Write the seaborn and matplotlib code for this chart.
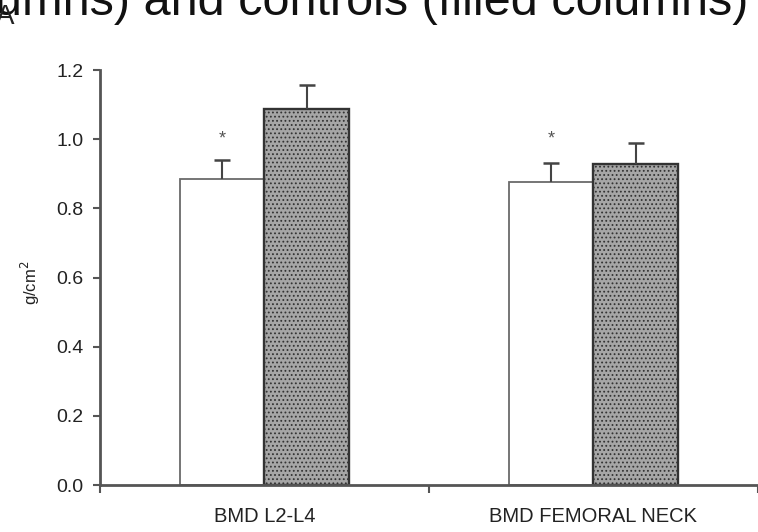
import matplotlib
import numpy as np
import pandas as pd
import seaborn as sns

matplotlib.use("Agg")
import matplotlib.pyplot as plt


sites = ["BMD L2-L4", "BMD FEMORAL NECK"]
groups = ["Patients", "Controls"]
patients_bmd = [0.885, 0.876]
controls_bmd = [1.087, 0.928]
patients_sd = [0.055, 0.055]
controls_sd = [0.070, 0.061]
y_ticks = [0.0, 0.2, 0.4, 0.6, 0.8, 1.0, 1.2]
star_level = 1.0


def setup_style() -> None:
    sns.set_theme(style="white")
    plt.rcParams["font.family"] = ["Liberation Sans", "DejaVu Sans"]
    plt.rcParams["hatch.color"] = "#7a7a7a"
    plt.rcParams["hatch.linewidth"] = 0.8
    plt.rcParams["figure.facecolor"] = "white"
    plt.rcParams["axes.facecolor"] = "white"


def build_frame() -> pd.DataFrame:
    rows = []
    for i, site in enumerate(sites):
        rows.append({"site": site, "group": groups[0], "bmd": patients_bmd[i], "sd": patients_sd[i]})
        rows.append({"site": site, "group": groups[1], "bmd": controls_bmd[i], "sd": controls_sd[i]})
    return pd.DataFrame(rows)


def main() -> None:
    setup_style()
    df = build_frame()

    fig = plt.figure(figsize=(7.58, 5.32), dpi=100)
    ax = fig.add_axes([0.1319, 0.0883, 0.8681, 0.7801])

    sns.barplot(
        data=df,
        x="site",
        y="bmd",
        hue="group",
        order=sites,
        hue_order=groups,
        palette=["white", "#a6a6a6"],
        width=0.516,
        gap=0,
        errorbar=None,
        legend=False,
        ax=ax,
    )

    sd_by_group = [patients_sd, controls_sd]
    bar_containers = list(ax.containers)
    for level, container in enumerate(bar_containers):
        for j, bar in enumerate(container.patches):
            if level == 0:
                bar.set_edgecolor("#6a6a6a")
                bar.set_linewidth(1.3)
            else:
                bar.set_edgecolor("#333333")
                bar.set_linewidth(1.7)
                bar.set_hatch("....")
            cx = bar.get_x() + bar.get_width() / 2
            top = bar.get_height()
            _, caps, _ = ax.errorbar(
                cx,
                top,
                yerr=[[0], [sd_by_group[level][j]]],
                fmt="none",
                ecolor="#444444",
                elinewidth=1.5,
                capsize=5.5,
                capthick=1.8,
                zorder=3,
            )
            # only the upper whisker is drawn in the original
            caps[0].set_visible(False)
            if level == 0:
                ax.text(cx, star_level, "*", ha="center", va="center", fontsize=13, color="#555555")

    ax.set_xlim(-0.5, 1.5)
    ax.set_ylim(0, 1.2)
    ax.set_yticks(y_ticks)
    ax.set_yticklabels([f"{t:.1f}" for t in y_ticks])
    ax.set_xticks([0, 1])
    ax.set_xticklabels(sites)
    ax.set_xticks([-0.5, 0.5, 1.5], minor=True)
    ax.set_xlabel("")
    ax.set_ylabel("g/cm$^2$", fontsize=12, color="#222222")
    ax.yaxis.set_label_coords(-0.088, 0.487)

    for side in ["top", "right"]:
        ax.spines[side].set_visible(False)
    for side in ["left", "bottom"]:
        ax.spines[side].set_color("#555555")
        ax.spines[side].set_linewidth(2.0)

    ax.tick_params(axis="y", which="major", direction="out", length=5, width=1.5,
                   color="#555555", labelsize=14, labelcolor="#222222", pad=7, left=True)
    ax.tick_params(axis="x", which="major", length=0, labelsize=14.5, labelcolor="#222222", pad=16)
    ax.tick_params(axis="x", which="minor", direction="out", length=6, width=1.5,
                   color="#555555", bottom=True)

    fig.text(0.987, 1 - 15 / 532, "Patients (open columns) and controls (filled columns)",
             ha="right", va="baseline", fontsize=35, color="#111111")
    fig.text(-0.005, 1 - 24 / 532, "A", ha="left", va="baseline", fontsize=20, color="#222222")

    fig.savefig("out.png", dpi=100)
    plt.close(fig)


if __name__ == "__main__":
    main()
